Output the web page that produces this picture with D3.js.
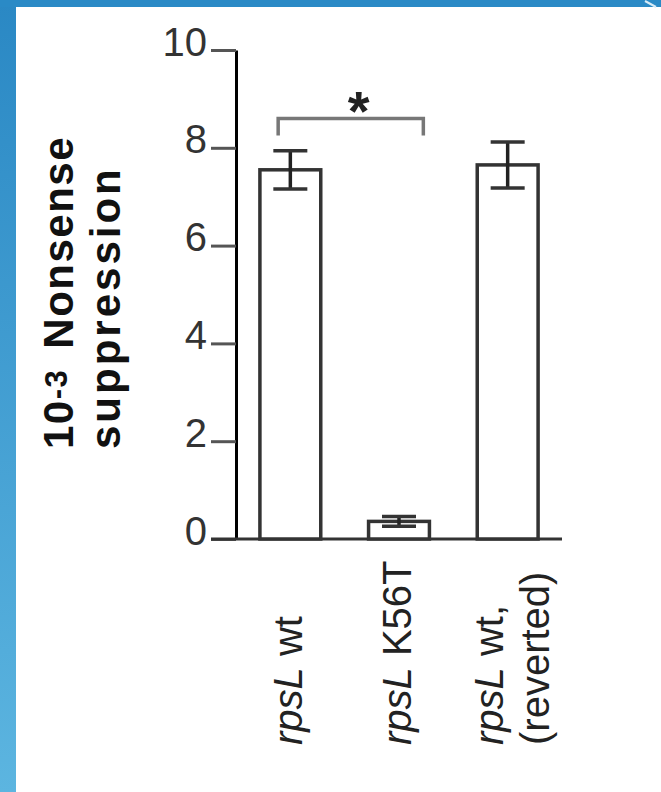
<!DOCTYPE html>
<html>
<head>
<meta charset="utf-8">
<script src="https://cdn.jsdelivr.net/npm/d3@7"></script>
<style>
  html, body { margin: 0; padding: 0; background: #fff; }
  svg { display: block; }
</style>
</head>
<body>
<div id="chart"></div>
<script>
// values
const categories = ["rpsL wt", "rpsL K56T", "rpsL wt,|(reverted)"]
const means = [7.55, 0.36, 7.65]
const errors = [0.39, 0.1, 0.47]
const yTicks = [0, 2, 4, 6, 8, 10]
const sigPair = [0, 1]
const sigLabel = "*"

const W = 661, H = 792
const font = "'Liberation Sans', Arial, sans-serif"

const svg = d3.select("#chart")
  .append("svg")
  .attr("width", W)
  .attr("height", H)

// slide frame (blue bands top and left)
const defs = svg.append("defs")
const grad = defs.append("linearGradient")
  .attr("id", "leftBand")
  .attr("x1", 0).attr("y1", 0).attr("x2", 0).attr("y2", 1)
grad.append("stop").attr("offset", "0%").attr("stop-color", "#2a88c4")
grad.append("stop").attr("offset", "100%").attr("stop-color", "#5cb5e0")

svg.append("rect").attr("width", W).attr("height", H).attr("fill", "#fff")
svg.append("rect").attr("x", 0).attr("y", 0).attr("width", 16).attr("height", H)
  .attr("fill", "url(#leftBand)")
svg.append("rect").attr("x", 0).attr("y", 0).attr("width", W).attr("height", 7)
  .attr("fill", "#2a8ac6")
svg.append("path")
  .attr("d", "M645,1 L656,7")
  .attr("stroke", "#d8ecf7").attr("stroke-width", 2)

// scales
const y = d3.scaleLinear().domain([0, 10]).range([539, 50])
const x = d3.scaleBand()
  .domain(categories)
  .range([236, 562])
  .paddingInner(0.44)
  .paddingOuter(0.22)
const bw = x.bandwidth()

// y axis
const yAxis = svg.append("g")
  .attr("transform", "translate(236,0)")
  .call(d3.axisLeft(y).tickValues(yTicks).tickSize(25).tickSizeOuter(0).tickPadding(4))
yAxis.select(".domain").attr("stroke", "#000").attr("stroke-width", 3)
yAxis.selectAll(".tick line").attr("stroke", "#555").attr("stroke-width", 3)
yAxis.selectAll(".tick text")
  .attr("font-family", font)
  .attr("font-size", 40)
  .attr("fill", "#333")
  .attr("dy", 5)

// x baseline
svg.append("line")
  .attr("x1", 236 - 25).attr("x2", x.range()[1])
  .attr("y1", y(0)).attr("y2", y(0))
  .attr("stroke", "#333").attr("stroke-width", 3)

// bars
svg.selectAll(".bar")
  .data(means)
  .join("rect")
  .attr("class", "bar")
  .attr("x", (d, i) => x(categories[i]))
  .attr("width", bw)
  .attr("y", d => y(d))
  .attr("height", d => y(0) - y(d))
  .attr("fill", "#fff")
  .attr("stroke", "#333")
  .attr("stroke-width", 3.5)

// error bars
const capW = 34
const eb = svg.selectAll(".err")
  .data(means)
  .join("g")
  .attr("class", "err")
  .attr("transform", (d, i) => `translate(${x(categories[i]) + bw / 2},0)`)
eb.append("line")
  .attr("y1", (d, i) => y(d + errors[i]))
  .attr("y2", (d, i) => y(d - errors[i]))
  .attr("stroke", "#222").attr("stroke-width", 3.5)
eb.append("line")
  .attr("x1", -capW / 2).attr("x2", capW / 2)
  .attr("y1", (d, i) => y(d + errors[i]))
  .attr("y2", (d, i) => y(d + errors[i]))
  .attr("stroke", "#333").attr("stroke-width", 3.5)
eb.append("line")
  .attr("x1", -capW / 2).attr("x2", capW / 2)
  .attr("y1", (d, i) => y(d - errors[i]))
  .attr("y2", (d, i) => y(d - errors[i]))
  .attr("stroke", "#333").attr("stroke-width", 3.5)

// significance bracket
const bx1 = x(categories[sigPair[0]]) + bw * 0.3
const bx2 = x(categories[sigPair[1]]) + bw * 0.9
svg.append("path")
  .attr("d", `M${bx1},${y(8.25)} V${y(8.6)} H${bx2} V${y(8.25)}`)
  .attr("fill", "none")
  .attr("stroke", "#777").attr("stroke-width", 3.5)
svg.append("text")
  .attr("x", (bx1 + bx2) / 2 + 8)
  .attr("y", y(9.0))
  .attr("dy", "0.56em")
  .attr("text-anchor", "middle")
  .attr("font-family", font)
  .attr("font-weight", "bold")
  .attr("font-size", 56)
  .attr("fill", "#222")
  .text(sigLabel)

// category labels, rotated, italic gene name
const lineGap = 46
categories.forEach((c, i) => {
  const lines = c.split("|")
  const off = lines.length > 1 ? -5 : 12
  const t = svg.append("text")
    .attr("transform", `translate(${x(c) + bw / 2 + off},745) rotate(-90)`)
    .attr("text-anchor", "start")
    .attr("font-family", font)
    .attr("font-size", 40)
    .attr("fill", "#222")
  lines.forEach((ln, j) => {
    const parts = ln.startsWith("rpsL") ? [["rpsL", true], [ln.slice(4), false]] : [[ln, false]]
    parts.forEach(([s, it], k) => {
      const ts = t.append("tspan").text(s)
      if (it) ts.attr("font-style", "italic")
      if (k === 0) ts.attr("x", 0).attr("dy", j === 0 ? 0 : lineGap)
    })
  })
})

// y axis title
const title = svg.append("text")
  .attr("transform", "translate(73,449) rotate(-90)")
  .attr("text-anchor", "start")
  .attr("font-family", font)
  .attr("font-weight", "bold")
  .attr("font-size", 42)
  .attr("letter-spacing", 1.5)
  .attr("fill", "#111")
title.append("tspan").text("10")
title.append("tspan").attr("font-size", 31).attr("dy", -6).text("-3")
title.append("tspan").attr("dy", 6).attr("dx", 20).text("Nonsense")
title.append("tspan").attr("x", 0).attr("dy", 47).attr("letter-spacing", 3).text("suppression")
</script>
</body>
</html>
